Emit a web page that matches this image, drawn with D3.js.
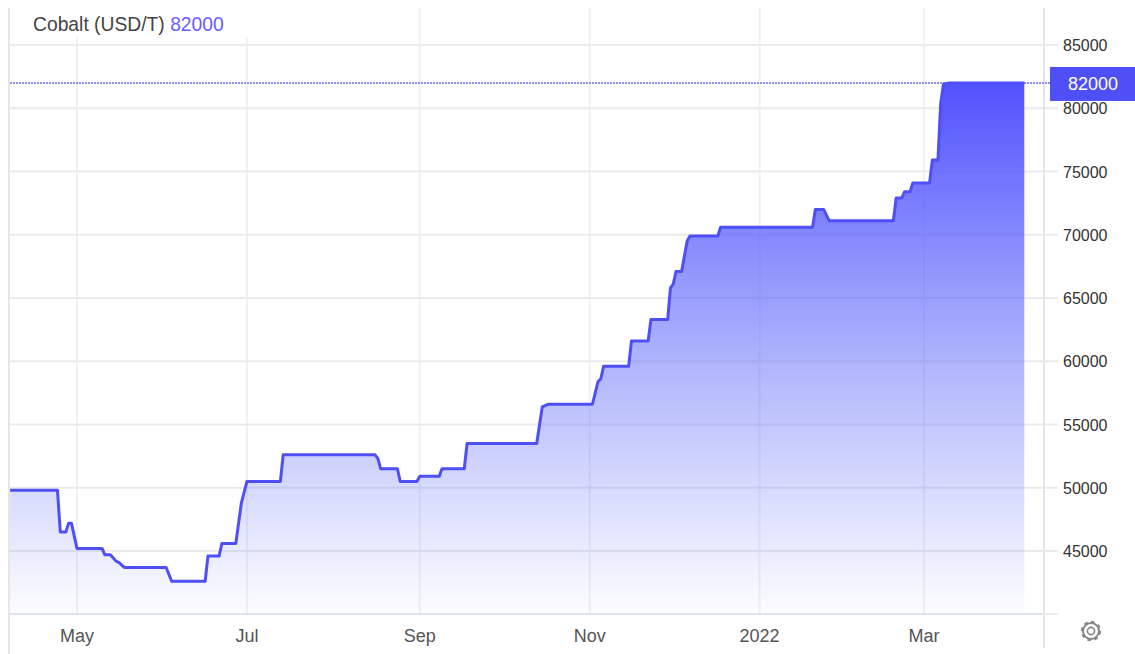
<!DOCTYPE html>
<html><head><meta charset="utf-8">
<script src="https://cdn.jsdelivr.net/npm/d3@7"></script>
<style>
html,body{margin:0;padding:0;background:#fff;overflow:hidden}
text{font-family:"Liberation Sans",Arial,sans-serif;font-size:16px}
</style></head><body><svg id="c" width="1135" height="654"></svg>
<script>
const dates=["2021-04-07","2021-04-24","2021-04-25","2021-04-27","2021-04-28","2021-04-29","2021-05-01","2021-05-10","2021-05-11","2021-05-13","2021-05-15","2021-05-16","2021-05-18","2021-06-02","2021-06-04","2021-06-16","2021-06-17","2021-06-21","2021-06-22","2021-06-27","2021-06-29","2021-07-01","2021-07-13","2021-07-14","2021-08-16","2021-08-17","2021-08-18","2021-08-24","2021-08-25","2021-08-31","2021-09-01","2021-09-08","2021-09-09","2021-09-17","2021-09-18","2021-10-13","2021-10-15","2021-10-17","2021-11-02","2021-11-04","2021-11-05","2021-11-06","2021-11-15","2021-11-16","2021-11-22","2021-11-23","2021-11-29","2021-11-30","2021-12-01","2021-12-02","2021-12-04","2021-12-06","2021-12-07","2021-12-17","2021-12-18","2022-01-20","2022-01-21","2022-01-24","2022-01-26","2022-02-18","2022-02-19","2022-02-21","2022-02-22","2022-02-24","2022-02-25","2022-03-03","2022-03-04","2022-03-06","2022-03-07","2022-03-08","2022-03-10","2022-04-06"];
const values=[49800,49800,46500,46500,47200,47200,45200,45200,44700,44700,44200,44100,43700,43700,42600,42600,44600,44600,45600,45600,48800,50500,50500,52600,52600,52300,51500,51500,50500,50500,50900,50900,51500,51500,53500,53500,56400,56600,56600,58400,58600,59600,59600,61600,61600,63300,63300,65800,66100,67100,67100,69500,69900,69900,70600,70600,72000,72000,71100,71100,72900,72900,73400,73400,74100,74100,75900,75900,80400,81900,82000,82000];
const yTicks=[45000,50000,55000,60000,65000,70000,75000,80000,85000];
const xTickDates=["2021-05-01","2021-07-01","2021-09-01","2021-11-01","2022-01-01","2022-03-01"];
const xTickLabels=["May","Jul","Sep","Nov","2022","Mar"];
const seriesName="Cobalt (USD/T)";
const lastValue=82000;

const parse=d3.utcParse("%Y-%m-%d");
const pts=dates.map((d,i)=>({d:parse(d),v:values[i]}));
const svg=d3.select("#c");
const xs=d3.scaleUtc().domain([parse("2021-05-01"),parse("2022-03-01")]).range([77,924]);
const ys=d3.scaleLinear().domain([45000,85000]).range([551,45]);
const plotLeft=10,plotRight=1043,axisY=614,areaBottom=612,plotTop=8;
const blue="#4f4ff6";

const defs=svg.append("defs");
const g=defs.append("linearGradient").attr("id","fade").attr("x1",0).attr("x2",0).attr("y1",0).attr("y2",1);
g.append("stop").attr("offset",0).attr("stop-color","#4f4ffe");
g.append("stop").attr("offset",1).attr("stop-color","#5f72f5").attr("stop-opacity",0.02);

// grid
svg.append("g").selectAll("line").data(xTickDates).join("line")
 .attr("x1",d=>xs(parse(d))).attr("x2",d=>xs(parse(d))).attr("y1",plotTop).attr("y2",axisY)
 .attr("stroke","#f1f1f5").attr("stroke-width",2);
svg.append("g").selectAll("line").data(yTicks).join("line")
 .attr("x1",plotLeft).attr("x2",plotRight+15).attr("y1",d=>ys(d)).attr("y2",d=>ys(d))
 .attr("stroke","#ebebeb").attr("stroke-width",2);
svg.append("rect").attr("x",plotLeft).attr("y",plotTop-2).attr("width",238).attr("height",31).attr("fill","#fff");
// frame
svg.append("line").attr("x1",9).attr("x2",9).attr("y1",plotTop).attr("y2",654).attr("stroke","#e6e6e6").attr("stroke-width",2);
svg.append("line").attr("x1",1044).attr("x2",1044).attr("y1",plotTop).attr("y2",648).attr("stroke","#e6e6e6").attr("stroke-width",2);
svg.append("line").attr("x1",plotLeft).attr("x2",plotRight).attr("y1",axisY).attr("y2",axisY).attr("stroke","#d4d9ec").attr("stroke-width",1.5);
svg.append("line").attr("x1",plotRight).attr("x2",plotRight+15).attr("y1",axisY).attr("y2",axisY).attr("stroke","#e9e9e9").attr("stroke-width",1.5);

// last price line
svg.append("line").attr("x1",plotLeft).attr("x2",1050).attr("y1",ys(lastValue)).attr("y2",ys(lastValue))
 .attr("stroke","#8f8ff5").attr("stroke-width",2).attr("stroke-dasharray","2 1");

// area + line
const area=d3.area().x(d=>xs(d.d)).y0(areaBottom).y1(d=>ys(d.v));
svg.append("path").datum(pts).attr("d",area).attr("fill","url(#fade)").attr("fill-opacity",0.99);
const line=d3.line().x(d=>xs(d.d)).y(d=>ys(d.v));
svg.append("path").datum(pts).attr("d",line).attr("fill","none").attr("stroke",blue).attr("stroke-width",3).attr("stroke-linejoin","round");

// axes labels
svg.append("g").selectAll("text").data(yTicks).join("text")
 .attr("x",1063).attr("y",d=>ys(d)+6).attr("fill","#333").text(d=>d);
svg.append("g").selectAll("text").data(xTickDates).join("text")
 .attr("x",d=>xs(parse(d))).attr("y",642).attr("text-anchor","middle").attr("fill","#555").style("font-size","18px").text((d,i)=>xTickLabels[i]);

// title
const t=svg.append("text").attr("x",33).attr("y",31).style("font-size","19.3px");
t.append("tspan").attr("fill","#444").text(seriesName+" ");
t.append("tspan").attr("fill","#6a5cff").text(lastValue);

// price tag
svg.append("rect").attr("x",1050).attr("y",ys(lastValue)-16).attr("width",85).attr("height",34).attr("fill",blue);
svg.append("text").attr("x",1093).attr("y",ys(lastValue)+7).attr("text-anchor","middle").attr("fill","#fff").style("font-size","18px").text(lastValue);

// settings gear
const gear=svg.append("g").attr("transform","translate(1091,631)").attr("fill","none").attr("stroke","#888");
gear.append("circle").attr("r",8).attr("stroke-width",2);
gear.append("circle").attr("r",9.2).attr("stroke-width",2).attr("stroke-dasharray","3.6 3.6");
gear.append("circle").attr("r",3.6).attr("stroke-width",1.6);
</script></body></html>
